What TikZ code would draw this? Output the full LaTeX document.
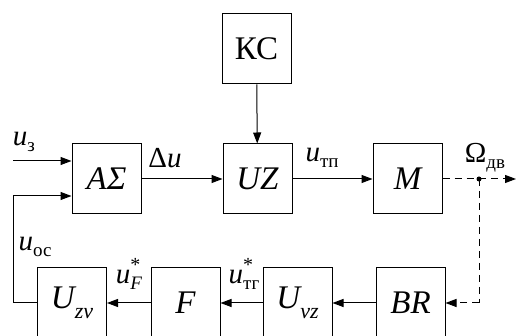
\documentclass[tikz,border=0pt]{standalone}
\usepackage{fontspec}
\setmainfont{LiberationSerif}[Extension=.ttf,UprightFont=*-Regular,ItalicFont=*-Italic,BoldFont=*-Bold,BoldItalicFont=*-BoldItalic]
\usetikzlibrary{arrows.meta}
\newcommand{\lbl}{\fontsize{29}{31}\selectfont}
\newcommand{\sbs}[1]{\raisebox{-0.22em}{\fontsize{19}{21}\selectfont\upshape #1}}
\begin{document}
\begin{tikzpicture}[x=1pt,y=1pt,
  blk/.style={draw,line width=1pt,minimum width=69pt,minimum height=70pt,inner sep=0pt,font=\fontsize{33}{35}\selectfont\itshape},
  tip/.style={-{Triangle[length=11pt,width=8pt]}},
  conn/.style={line width=1pt,tip},
  dconn/.style={line width=1pt,dash pattern=on 7pt off 5pt},
  lab/.style={inner sep=0pt,font=\lbl}]
\useasboundingbox (0,0) rectangle (516,336);
\begin{scope}
\clip (0,0) rectangle (516,336);
\node[blk] (ks) at (256.5,287) {\upshape КС};
\node[blk] (as) at (106.5,157) {AΣ};
\node[blk] (uz) at (257.5,157) {UZ};
\node[blk] (m) at (407.5,157) {M};
\node[blk] (uzv) at (72,33) {U\raisebox{-0.3em}{\fontsize{22}{24}\selectfont zv}};
\node[blk] (f) at (185.5,33) {F};
\node[blk] (uvz) at (297.5,33) {U\raisebox{-0.3em}{\fontsize{22}{24}\selectfont vz}};
\node[blk] (br) at (410.5,33) {BR};
\end{scope}
\coordinate (in) at (13,175);
\coordinate (fbl) at (13,140);
\coordinate (j) at (479,157);
\coordinate (out) at (516,157);
\coordinate (jd) at (479,33);
\draw[conn] (in) -- (as.west |- in);
\draw[conn] (uzv.west) -| (fbl) -- (as.west |- fbl);
\draw[conn] (as) -- (uz);
\draw[conn] (ks) -- (uz);
\draw[conn] (uz) -- (m);
\draw[dconn] (m.east) -- (j);
\draw[dconn,tip] (j) -- (out);
\draw[dconn] (j) -- (jd);
\draw[dconn,tip] (jd) -- (br.east);
\fill (j) circle (2.5pt);
\draw[conn] (br) -- (uvz);
\draw[conn] (uvz) -- (f);
\draw[conn] (f) -- (uzv);
\node[lab] (l1) at (24,194) {\itshape u\sbs{з}};
\node[lab] (l2) at (165,178) {Δ\itshape u};
\node[lab] (l3) at (322,178) {\itshape u\sbs{тп}};
\node[lab] (l4) at (485,178) {Ω\sbs{дв}};
\node[lab] (l5) at (35,89) {\itshape u\sbs{ос}};
\node[lab] (l6) at (129,62) {\itshape u\rlap{\raisebox{0.42em}{\fontsize{20}{22}\selectfont\upshape *}}\sbs{\itshape F}};
\node[lab] (l7) at (244,62) {\itshape u\rlap{\raisebox{0.42em}{\fontsize{20}{22}\selectfont\upshape *}}\sbs{тг}};
\end{tikzpicture}
\end{document}
